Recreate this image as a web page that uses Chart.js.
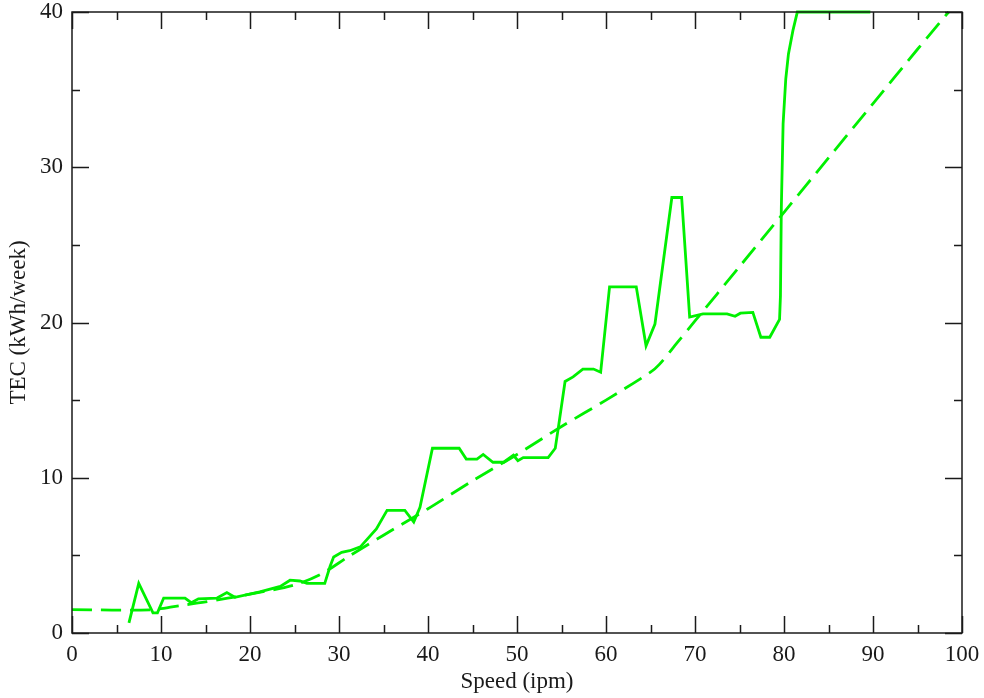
<!DOCTYPE html>
<html>
<head>
<meta charset="utf-8">
<script src="https://cdn.jsdelivr.net/npm/chart.js@4.4.1/dist/chart.umd.min.js"></script>
<style>
  html, body { margin: 0; padding: 0; background: #fff; }
  #wrap { width: 984px; height: 698px; }
</style>
</head>
<body>
<div id="wrap"><canvas id="myChart" width="984" height="698"></canvas></div>
<script>
// measured TEC curve
const speedMeasured = [6.4, 7.5, 9.1, 9.6, 10.3, 12.7, 13.4, 14.2, 16.3, 17.4, 18.3, 21.1, 23.4, 24.5, 25.6, 26.4, 28.4, 29.0, 29.4, 30.3, 31.2, 32.4, 34.2, 35.4, 37.4, 38.4, 39.1, 40.5, 43.5, 44.3, 45.5, 46.2, 47.3, 48.5, 49.6, 50.1, 50.7, 53.5, 54.3, 54.6, 55.4, 56.3, 57.4, 58.6, 59.4, 60.4, 63.4, 64.5, 65.5, 67.4, 68.5, 69.4, 70.9, 73.6, 74.5, 75.1, 76.5, 77.4, 78.4, 79.5, 79.6, 79.7, 79.9, 80.2, 80.5, 81.0, 81.5, 89.7];
const tecMeasured = [0.65, 3.2, 1.3, 1.3, 2.25, 2.25, 1.95, 2.2, 2.25, 2.6, 2.3, 2.65, 3.0, 3.4, 3.35, 3.2, 3.2, 4.3, 4.9, 5.2, 5.3, 5.55, 6.7, 7.9, 7.9, 7.15, 8.1, 11.9, 11.9, 11.2, 11.2, 11.5, 11.0, 11.0, 11.45, 11.1, 11.3, 11.3, 11.9, 13.05, 16.2, 16.5, 17.0, 17.0, 16.8, 22.3, 22.3, 18.5, 19.9, 28.05, 28.05, 20.35, 20.55, 20.55, 20.4, 20.6, 20.65, 19.05, 19.05, 20.2, 21.7, 27.4, 32.8, 35.7, 37.3, 38.8, 40, 40];

// fitted (dashed) curve
const speedFit = [0, 9, 12, 15, 20, 25, 28, 31, 35, 40, 45, 50, 55, 60, 65, 66, 68, 70, 75, 80, 85, 90, 95, 98.5];
const tecFit = [1.5, 1.5, 1.75, 2.0, 2.5, 3.1, 3.8, 4.9, 6.3, 8.0, 9.8, 11.5, 13.3, 15.0, 16.8, 17.3, 18.7, 20.1, 23.6, 27.1, 30.6, 34.1, 37.6, 40];

const xTicks = [0, 10, 20, 30, 40, 50, 60, 70, 80, 90, 100];
const yTicks = [0, 10, 20, 30, 40];

const green = '#00f000';
const ink = '#1a1a1a';
const serif = "'Liberation Serif', 'DejaVu Serif', serif";

function toPoints(xs, ys) {
  return xs.map((x, i) => ({ x: x, y: ys[i] }));
}

// frame + inward ticks on all four sides
const frameTicks = {
  id: 'frameTicks',
  afterDatasetsDraw(chart) {
    const { ctx, chartArea: a, scales } = chart;
    const major = 17, minor = 8;
    ctx.save();
    ctx.strokeStyle = ink;
    ctx.lineWidth = 1.5;
    ctx.strokeRect(a.left, a.top, a.right - a.left, a.bottom - a.top);
    ctx.beginPath();
    for (let i = 0; i < xTicks.length; i++) {
      const px = Math.round(scales.x.getPixelForValue(xTicks[i])) + 0.5;
      ctx.moveTo(px, a.bottom); ctx.lineTo(px, a.bottom - major);
      ctx.moveTo(px, a.top); ctx.lineTo(px, a.top + major);
      if (i < xTicks.length - 1) {
        const mx = Math.round(scales.x.getPixelForValue((xTicks[i] + xTicks[i + 1]) / 2)) + 0.5;
        ctx.moveTo(mx, a.bottom); ctx.lineTo(mx, a.bottom - minor);
        ctx.moveTo(mx, a.top); ctx.lineTo(mx, a.top + minor);
      }
    }
    for (let i = 0; i < yTicks.length; i++) {
      const py = Math.round(scales.y.getPixelForValue(yTicks[i])) + 0.5;
      ctx.moveTo(a.left, py); ctx.lineTo(a.left + major, py);
      ctx.moveTo(a.right, py); ctx.lineTo(a.right - major, py);
      if (i < yTicks.length - 1) {
        const my = Math.round(scales.y.getPixelForValue((yTicks[i] + yTicks[i + 1]) / 2)) + 0.5;
        ctx.moveTo(a.left, my); ctx.lineTo(a.left + minor, my);
        ctx.moveTo(a.right, my); ctx.lineTo(a.right - minor, my);
      }
    }
    ctx.stroke();
    ctx.restore();
  }
};

const ctx = document.getElementById('myChart');
const myChart = new Chart(ctx, {
  type: 'line',
  data: {
    datasets: [
      {
        label: 'Measured',
        data: toPoints(speedMeasured, tecMeasured),
        borderColor: green,
        borderWidth: 2.8,
        pointRadius: 0,
        tension: 0,
        clip: 3,
      },
      {
        label: 'Fit',
        data: toPoints(speedFit, tecFit),
        borderColor: green,
        borderWidth: 2.8,
        borderDash: [20, 9],
        pointRadius: 0,
        tension: 0.3,
        clip: 3,
      },
    ],
  },
  options: {
    responsive: false,
    animation: false,
    layout: { padding: { top: 12, right: 22, left: 0, bottom: 0 } },
    plugins: { legend: { display: false }, tooltip: { enabled: false } },
    scales: {
      x: {
        type: 'linear',
        min: 0,
        max: 100,
        afterBuildTicks: (s) => { s.ticks = xTicks.map(v => ({ value: v })); },
        afterFit: (s) => { s.height = 65; s.paddingLeft = 0; s.paddingRight = 0; },
        grid: { display: false, drawTicks: false },
        border: { display: false },
        ticks: { color: ink, font: { family: serif, size: 23 }, padding: 8, maxRotation: 0 },
        title: { display: true, text: 'Speed (ipm)', color: ink, font: { family: serif, size: 23 }, padding: { top: 0, bottom: 2 } },
      },
      y: {
        type: 'linear',
        min: 0,
        max: 40,
        afterBuildTicks: (s) => { s.ticks = yTicks.map(v => ({ value: v })); },
        afterFit: (s) => { s.width = 72; s.paddingTop = 0; s.paddingBottom = 0; },
        grid: { display: false, drawTicks: false },
        border: { display: false },
        ticks: { color: ink, font: { family: serif, size: 23 }, padding: 9 },
        title: { display: true, text: 'TEC (kWh/week)', color: ink, font: { family: serif, size: 23 }, padding: { top: 5, bottom: 0 } },
      },
    },
  },
  plugins: [frameTicks],
});
</script>
</body>
</html>
